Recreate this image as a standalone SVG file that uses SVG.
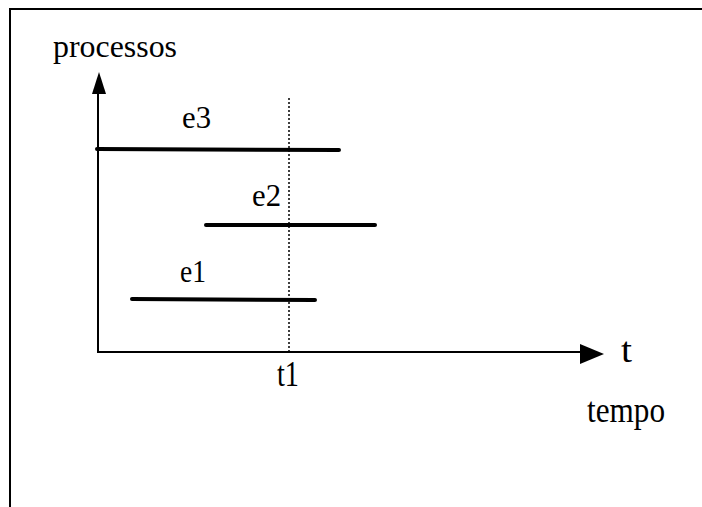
<svg xmlns="http://www.w3.org/2000/svg" width="702" height="507" viewBox="0 0 702 507">
<style>
text{font-family:"Liberation Serif","Times New Roman",serif;font-size:31px;fill:#000}
.big{font-size:35px}
.bar{stroke:#000;stroke-width:4;stroke-linecap:round}
.axis{stroke:#000;stroke-width:2;fill:none}
</style>
<rect width="702" height="507" fill="#fff"/>
<path d="M10,507 V9 H702" fill="none" stroke="#000" stroke-width="2"/>
<g id="connectors">
<path class="axis" d="M98,352 V90"/>
<path d="M99,72 L92,94 L106,94 z" fill="#000"/>
<path class="axis" d="M97,352 H586"/>
<path d="M604,354 L580,344 L580,364 z" fill="#000"/>
<path d="M289,98 V352" stroke="#000" stroke-width="1.5" stroke-dasharray="2,2" fill="none"/>
</g>
<g id="e3"><line class="bar" x1="97" y1="149" x2="339" y2="150"/><text x="182" y="128" textLength="29" lengthAdjust="spacingAndGlyphs">e3</text></g>
<g id="e2"><line class="bar" x1="206" y1="225" x2="375" y2="225"/><text x="252" y="206" textLength="29" lengthAdjust="spacingAndGlyphs">e2</text></g>
<g id="e1"><line class="bar" x1="132" y1="299" x2="315" y2="300"/><text x="180" y="282" textLength="26" lengthAdjust="spacingAndGlyphs">e1</text></g>
<g id="labels">
<text x="53" y="57" font-size="33" textLength="124" lengthAdjust="spacingAndGlyphs">processos</text>
<text class="big" x="621" y="362" textLength="11" lengthAdjust="spacingAndGlyphs">t</text>
<text class="big" x="277" y="386" textLength="22" lengthAdjust="spacingAndGlyphs">t1</text>
<text class="big" x="587" y="422" textLength="78" lengthAdjust="spacingAndGlyphs">tempo</text>
</g>
</svg>
